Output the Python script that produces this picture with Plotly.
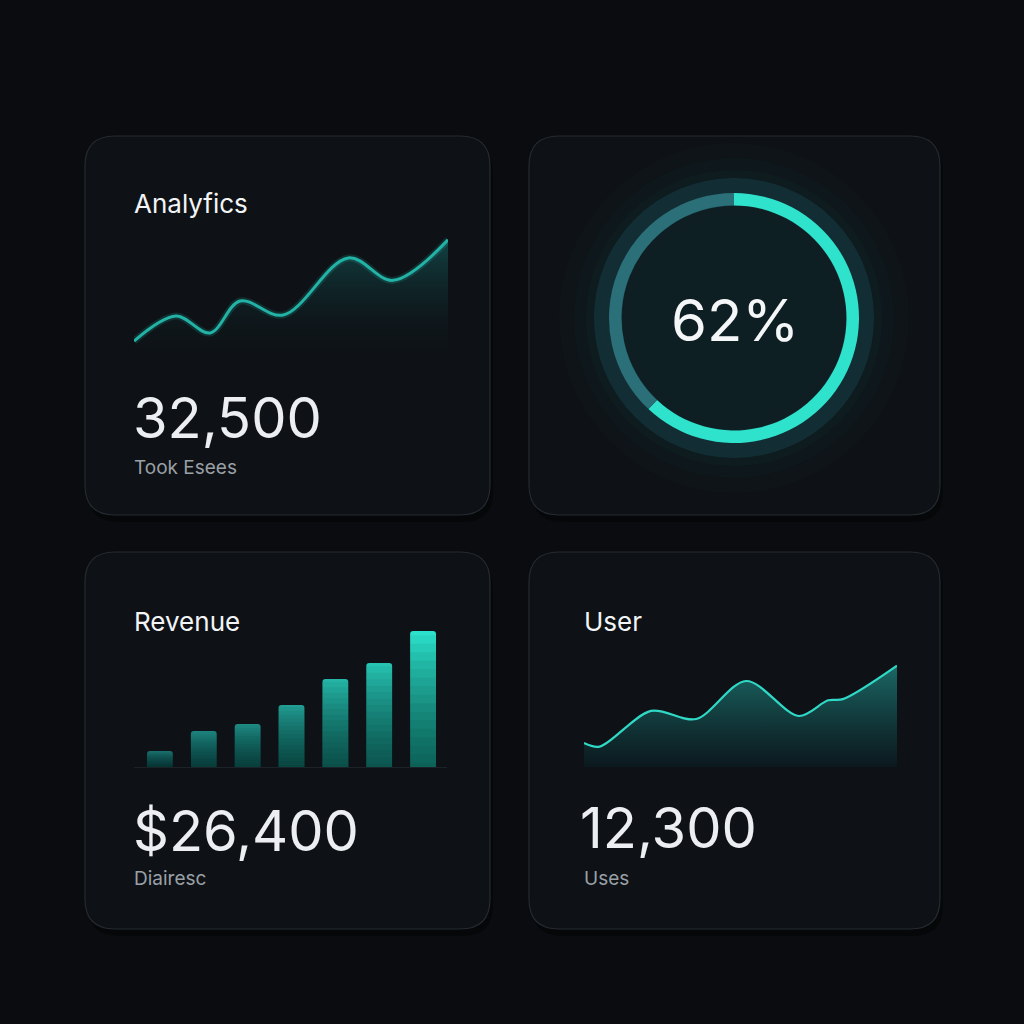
import plotly.graph_objects as go

# ---------------- data ----------------
analytics_x = [0, 13.4, 24.2, 33.8, 47.5, 68.2, 82.5, 100]
analytics_y = [14, 32.6, 20, 43.7, 33.3, 75.6, 59, 89]

progress_pct = 62
progress_values = [progress_pct, 100 - progress_pct]

revenue_periods = ["P1", "P2", "P3", "P4", "P5", "P6", "P7"]
revenue_values = [16, 36, 43, 62, 88, 104, 136]

users_x = [0, 5, 21.4, 35.8, 51.8, 68.6, 78, 82.7, 100]
users_y = [20.5, 17.4, 48, 41, 73.5, 43.6, 57, 58, 86.6]

card_titles = ["Analyfics", "Revenue", "User"]
big_numbers = ["32,500", "$26,400", "12,300"]
subtitles = ["Took Esees", "Diairesc", "Uses"]

# ---------------- helpers ----------------
W = 1024.0
FONT = "Inter"


def px_x(p):
    return p / W


def px_y(p):
    return 1 - p / W


def rounded_rect(x0, y0, x1, y1, r):
    X0, X1 = px_x(x0), px_x(x1)
    Y0, Y1 = px_y(y0), px_y(y1)
    R = r / W
    return (f"M {X0+R},{Y0} L {X1-R},{Y0} Q {X1},{Y0} {X1},{Y0-R} "
            f"L {X1},{Y1+R} Q {X1},{Y1} {X1-R},{Y1} L {X0+R},{Y1} "
            f"Q {X0},{Y1} {X0},{Y1+R} L {X0},{Y0-R} Q {X0},{Y0} {X0+R},{Y0} Z")


fig = go.Figure()

# ---------- card 1: analytics line ----------
fig.add_trace(go.Scatter(
    x=analytics_x, y=analytics_y, mode="lines",
    line=dict(shape="spline", smoothing=1.0, width=0, color="rgba(0,0,0,0)"),
    fill="tozeroy",
    fillgradient=dict(type="vertical", start=0, stop=90,
                      colorscale=[[0, "rgba(10,22,26,0.0)"], [1, "rgba(22,100,100,0.6)"]]),
    hoverinfo="skip", showlegend=False, xaxis="x", yaxis="y"))
fig.add_trace(go.Scatter(
    x=analytics_x, y=analytics_y, mode="lines",
    line=dict(shape="spline", smoothing=1.0, width=7, color="rgba(40,210,195,0.15)"),
    hoverinfo="skip", showlegend=False, xaxis="x", yaxis="y"))
fig.add_trace(go.Scatter(
    x=analytics_x, y=analytics_y, mode="lines",
    line=dict(shape="spline", smoothing=1.0, width=3, color="#22b3a6"),
    hoverinfo="skip", showlegend=False, xaxis="x", yaxis="y"))

# ---------- card 3: revenue bars ----------
vmax = max(revenue_values)
bar_colors = []
for v in revenue_values:
    t = v / vmax
    r = int(24 + (44 - 24) * t)
    g = int(100 + (226 - 100) * t)
    b = int(100 + (204 - 100) * t)
    bar_colors.append(f"rgb({r},{g},{b})")

fig.add_trace(go.Bar(
    x=revenue_periods, y=revenue_values,
    marker=dict(color=bar_colors, cornerradius=3, line=dict(width=0)),
    width=0.59, hoverinfo="skip", showlegend=False, xaxis="x2", yaxis="y2"))
# vertical darkening toward the base (soft gradient)
n_layers = 16
for k in range(n_layers):
    frac = 1 - (k + 0.5) / n_layers
    fig.add_trace(go.Bar(
        x=revenue_periods, y=[v * frac for v in revenue_values],
        marker=dict(color="rgba(6,16,20,0.055)", line=dict(width=0)),
        width=0.59, hoverinfo="skip", showlegend=False, xaxis="x2", yaxis="y2"))

# ---------- card 4: users area ----------
fig.add_trace(go.Scatter(
    x=users_x, y=users_y, mode="lines",
    line=dict(shape="spline", smoothing=0.9, width=0, color="rgba(0,0,0,0)"),
    fill="tozeroy",
    fillgradient=dict(type="vertical", start=0, stop=90,
                      colorscale=[[0, "rgba(10,30,36,0.6)"], [1, "rgba(30,125,120,0.85)"]]),
    hoverinfo="skip", showlegend=False, xaxis="x3", yaxis="y3"))
fig.add_trace(go.Scatter(
    x=users_x, y=users_y, mode="lines",
    line=dict(shape="spline", smoothing=0.9, width=2.2, color="#30d8c6"),
    hoverinfo="skip", showlegend=False, xaxis="x3", yaxis="y3"))

# ---------- card 2: donut ----------
cx, cy = 734, 318


def dom(r):
    return dict(x=[px_x(cx - r), px_x(cx + r)], y=[px_y(cy + r), px_y(cy - r)])


fig.add_trace(go.Pie(
    values=[1], domain=dom(140), hole=112 / 140, sort=False,
    marker=dict(colors=["rgba(22,62,70,0.55)"], line=dict(width=0)),
    textinfo="none", hoverinfo="skip", showlegend=False))
fig.add_trace(go.Pie(
    values=progress_values, domain=dom(125), hole=0.9, sort=False,
    direction="clockwise", rotation=0,
    marker=dict(colors=["#2fe2cc", "#2b6f78"], line=dict(width=0)),
    textinfo="none", hoverinfo="skip", showlegend=False))

# ---------------- layout ----------------
shapes = []
cards = [(85, 136, 490, 515), (529, 136, 940, 515), (85, 552, 490, 929), (529, 552, 940, 929)]
for (x0, y0, x1, y1) in cards:
    shapes.append(dict(type="path", path=rounded_rect(x0 + 3, y0 + 7, x1 + 3, y1 + 7, 30),
                       xref="paper", yref="paper", fillcolor="rgba(0,0,0,0.35)",
                       line=dict(width=0), layer="below"))
    shapes.append(dict(type="path", path=rounded_rect(x0, y0, x1, y1, 30),
                       xref="paper", yref="paper", fillcolor="#0e1216",
                       line=dict(color="#252b31", width=1.2), layer="below"))

for r, a in [(175, 0.015), (160, 0.02), (148, 0.03)]:
    shapes.append(dict(type="circle", xref="paper", yref="paper",
                       x0=px_x(cx - r), x1=px_x(cx + r), y0=px_y(cy + r), y1=px_y(cy - r),
                       fillcolor=f"rgba(40,200,190,{a})", line=dict(width=0), layer="below"))
for r, a in [(112, 0.015), (104, 0.012)]:
    shapes.append(dict(type="circle", xref="paper", yref="paper",
                       x0=px_x(cx - r), x1=px_x(cx + r), y0=px_y(cy + r), y1=px_y(cy - r),
                       fillcolor=f"rgba(40,200,190,{a})", line=dict(width=0), layer="below"))

shapes.append(dict(type="line", xref="paper", yref="paper",
                   x0=px_x(134), x1=px_x(447), y0=px_y(767.5), y1=px_y(767.5),
                   line=dict(color="#1c2328", width=1), layer="below"))

annotations = []


def txt(s, x, y, size, color, xanchor="left"):
    annotations.append(dict(text=s, x=px_x(x), y=px_y(y), xref="paper", yref="paper",
                            xanchor=xanchor, yanchor="middle", showarrow=False,
                            font=dict(family=FONT, size=size, color=color)))


title_pos = [(132, 203), (132, 621), (582, 621)]
num_pos = [(131, 418), (131, 831), (578, 828)]
sub_pos = [(132, 467), (132, 878), (582, 878)]
for i in range(3):
    txt(card_titles[i], *title_pos[i], 26, "#f2f4f6")
    txt(big_numbers[i], *num_pos[i], 56, "#eceef1")
    txt(subtitles[i], *sub_pos[i], 19, "#9aa0a6")
txt(f"{progress_pct}%", cx + 1, 320, 58, "#f4f6f8", xanchor="center")

ax_hidden = dict(visible=False, showgrid=False, zeroline=False, fixedrange=True)
fig.update_layout(
    width=1024, height=1024,
    margin=dict(l=0, r=0, t=0, b=0),
    paper_bgcolor="#0a0c0f", plot_bgcolor="rgba(0,0,0,0)",
    barmode="overlay",
    shapes=shapes, annotations=annotations,
    xaxis=dict(ax_hidden, domain=[px_x(134), px_x(448)], range=[0, 100]),
    yaxis=dict(ax_hidden, domain=[px_y(360), px_y(225)], range=[0, 100]),
    xaxis2=dict(ax_hidden, domain=[px_x(138), px_x(445)], range=[-0.5, 6.5], type="category"),
    yaxis2=dict(ax_hidden, domain=[px_y(767), px_y(627)], range=[0, 140]),
    xaxis3=dict(ax_hidden, domain=[px_x(584), px_x(897)], range=[0, 100]),
    yaxis3=dict(ax_hidden, domain=[px_y(767), px_y(650)], range=[0, 100]),
    showlegend=False,
)

fig.write_html(
    "out.html",
    config={"displayModeBar": False},
    post_script="document.body.style.margin='0';document.body.style.overflow='hidden';"
                "document.body.style.background='#0a0c0f';",
)
